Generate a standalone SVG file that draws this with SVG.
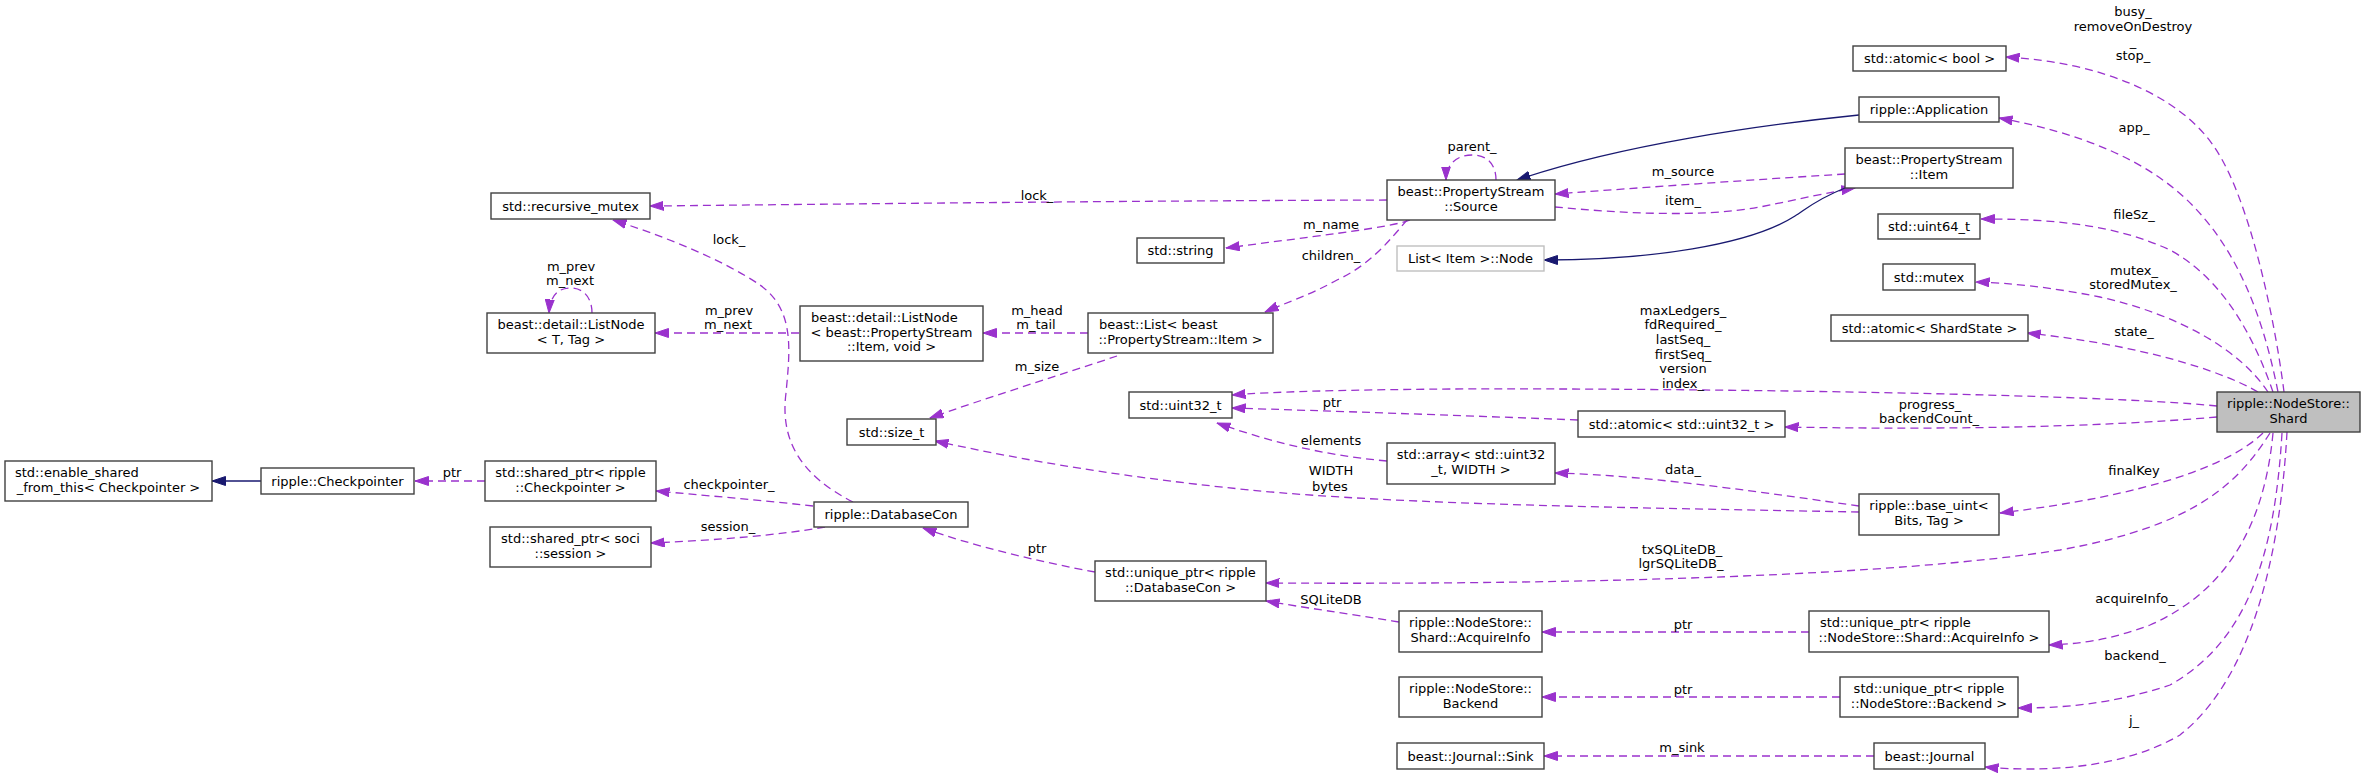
<svg xmlns="http://www.w3.org/2000/svg" width="2365" height="775" viewBox="0 0 2365 775">
<style>
.n rect{fill:#ffffff;stroke:#404040;stroke-width:1.4}
.n.g rect{stroke:#bfbfbf}
.n.s rect{fill:#bfbfbf}
text{font-family:"DejaVu Sans","Liberation Sans",sans-serif;font-size:13px;fill:#000;text-anchor:middle}
text.l{text-anchor:start}
.e path{fill:none;stroke:#9a32cd;stroke-width:1.3;stroke-dasharray:8,5}
.e path.h{stroke:#191970;stroke-dasharray:none}
</style>
<defs>
<marker id="ap" viewBox="0 0 14 10" refX="13.5" refY="5" markerWidth="14" markerHeight="10" markerUnits="userSpaceOnUse" orient="auto"><path d="M0,0.5 L13.5,5 L0,9.5 z" fill="#9a32cd" stroke="#9a32cd" stroke-width="1"/></marker>
<marker id="an" viewBox="0 0 14 10" refX="13.5" refY="5" markerWidth="14" markerHeight="10" markerUnits="userSpaceOnUse" orient="auto"><path d="M0,0.5 L13.5,5 L0,9.5 z" fill="#191970" stroke="#191970" stroke-width="1"/></marker>
</defs>
<rect width="2365" height="775" fill="#fff"/>
<g id="edges" class="e">
<path marker-end="url(#ap)" d="M2284,392 C2275,320 2250,200 2215,148 C2180,95 2100,62 2006,57"/>
<path marker-end="url(#ap)" d="M2278,392 C2262,310 2235,250 2195,208 C2150,160 2080,133 1999,118"/>
<path marker-end="url(#ap)" d="M2273,392 C2255,340 2225,280 2170,250 C2110,222 2040,219 1981,219"/>
<path marker-end="url(#ap)" d="M2268,392 C2240,350 2180,315 2100,297 C2050,287 2010,283 1976,282"/>
<path marker-end="url(#ap)" d="M2258,392 C2220,370 2140,345 2027,333"/>
<path marker-end="url(#ap)" d="M2217,406 C2100,394 1700,388 1450,389 C1330,390 1270,392 1232,395"/>
<path marker-end="url(#ap)" d="M2217,417 C2100,427 1950,430 1785,427"/>
<path marker-end="url(#ap)" d="M1578,420 C1450,415 1330,411 1232,408"/>
<path marker-end="url(#ap)" d="M1387,461 C1320,455 1265,440 1217,423"/>
<path marker-end="url(#ap)" d="M1859,506 C1780,495 1650,475 1555,473"/>
<path marker-end="url(#ap)" d="M1859,512 C1650,508 1400,505 1250,490 C1100,475 1000,455 935,441"/>
<path marker-end="url(#ap)" d="M2263,433 C2230,465 2150,495 2000,513"/>
<path marker-end="url(#ap)" d="M2270,433 C2240,480 2200,525 2060,550 C1900,575 1600,585 1266,583"/>
<path marker-end="url(#ap)" d="M1399,622 C1350,614 1300,607 1266,601"/>
<path marker-end="url(#ap)" d="M1095,572 C1040,562 970,545 923,528"/>
<path marker-end="url(#ap)" d="M1809,632 L1542,632"/>
<path marker-end="url(#ap)" d="M2273,433 C2265,520 2230,590 2150,625 C2110,640 2080,644 2049,645"/>
<path marker-end="url(#ap)" d="M1840,697 L1542,697"/>
<path marker-end="url(#ap)" d="M2282,433 C2275,550 2250,640 2170,685 C2110,705 2060,708 2018,708"/>
<path marker-end="url(#ap)" d="M1874,756 L1544,756"/>
<path marker-end="url(#ap)" d="M2287,432 C2280,560 2250,680 2180,735 C2120,770 2040,772 1985,767"/>
<path marker-end="url(#ap)" d="M853,502 C800,475 780,440 786,393 C790,350 795,310 760,285 C720,258 660,235 613,220"/>
<path marker-end="url(#ap)" d="M813,506 C760,500 700,495 656,491"/>
<path marker-end="url(#ap)" d="M825,527 C780,535 720,540 651,543"/>
<path marker-end="url(#ap)" d="M485,481 L415,481"/>
<path class="h" marker-end="url(#an)" d="M261,481 L212,481"/>
<path marker-end="url(#ap)" d="M592,313 C592,298 584,288 570,288 C558,288 550,296 549,313"/>
<path marker-end="url(#ap)" d="M799,333 L655,333"/>
<path marker-end="url(#ap)" d="M1088,333 L983,333"/>
<path marker-end="url(#ap)" d="M1117,356 C1060,375 980,400 930,418"/>
<path marker-end="url(#ap)" d="M1407,220 C1390,240 1370,265 1337,280 C1310,295 1285,303 1265,312"/>
<path marker-end="url(#ap)" d="M1410,220 C1390,228 1300,238 1226,248"/>
<path marker-end="url(#ap)" d="M1387,200 C1100,201 850,204 650,206"/>
<path marker-end="url(#ap)" d="M1496,180 C1496,165 1488,155 1472,155 C1456,155 1446,165 1446,180"/>
<path marker-end="url(#ap)" d="M1845,174 C1750,180 1650,187 1555,194"/>
<path marker-end="url(#ap)" d="M1555,207 C1620,213 1700,218 1760,207 C1800,199 1830,192 1855,188"/>
<path class="h" marker-end="url(#an)" d="M1859,115 C1760,125 1620,145 1517,180"/>
<path class="h" marker-end="url(#an)" d="M1845,188 C1815,200 1805,210 1795,216 C1750,245 1650,260 1544,260"/>
<g id="edge-labels">
<text x="2133" y="16">busy_</text><text x="2133" y="31">removeOnDestroy</text><text x="2133" y="45.5">_</text><text x="2133" y="60">stop_</text>
<text x="2134" y="132">app_</text>
<text x="2134" y="218.5">fileSz_</text>
<text x="2134" y="275">mutex_</text><text x="2133" y="289">storedMutex_</text>
<text x="2134" y="335.5">state_</text>
<text x="1683" y="315">maxLedgers_</text><text x="1683" y="329">fdRequired_</text><text x="1683" y="344">lastSeq_</text><text x="1683" y="358.5">firstSeq_</text><text x="1683" y="373">version</text><text x="1683" y="388">index_</text>
<text x="1930" y="408.5">progress_</text><text x="1929" y="423">backendCount_</text>
<text x="1332" y="407">ptr</text>
<text x="1331" y="445">elements</text>
<text x="1683" y="473.5">data_</text>
<text x="1331" y="475">WIDTH</text><text x="1330" y="490.5">bytes</text>
<text x="2134" y="475">finalKey</text>
<text x="1682" y="553.5">txSQLiteDB_</text><text x="1681" y="568">lgrSQLiteDB_</text>
<text x="1331" y="603.5">SQLiteDB</text>
<text x="1037" y="553">ptr</text>
<text x="1683" y="628.5">ptr</text>
<text x="2135" y="603">acquireInfo_</text>
<text x="1683" y="694">ptr</text>
<text x="2135" y="660">backend_</text>
<text x="1682" y="752">m_sink</text>
<text x="2134" y="724.5">j_</text>
<text x="729" y="244">lock_</text>
<text x="1037" y="199.5">lock_</text>
<text x="729" y="488.5">checkpointer_</text>
<text x="728" y="531">session_</text>
<text x="452" y="477">ptr</text>
<text x="571" y="270.5">m_prev</text><text x="570" y="285">m_next</text>
<text x="729" y="315">m_prev</text><text x="728" y="329">m_next</text>
<text x="1037" y="315">m_head</text><text x="1036" y="328.5">m_tail</text>
<text x="1037" y="371">m_size</text>
<text x="1331" y="260">children_</text>
<text x="1331" y="228.5">m_name</text>
<text x="1472" y="151">parent_</text>
<text x="1683" y="175.5">m_source</text>
<text x="1683" y="204.5">item_</text>
</g>
</g>
<g id="n_esft" class="n"><rect x="5" y="461" width="207" height="40"/><text class="l" x="15" y="477">std::enable_shared</text><text x="108.5" y="492">_from_this&lt; Checkpointer &gt;</text></g>
<g id="n_ckpt" class="n"><rect x="261" y="468" width="153" height="26"/><text x="337.5" y="485.5">ripple::Checkpointer</text></g>
<g id="n_spckpt" class="n"><rect x="485" y="461" width="171" height="40"/><text x="570.5" y="477">std::shared_ptr&lt; ripple</text><text x="570.5" y="492">::Checkpointer &gt;</text></g>
<g id="n_spsoci" class="n"><rect x="490" y="527" width="161" height="40"/><text x="570.5" y="543">std::shared_ptr&lt; soci</text><text x="570.5" y="558">::session &gt;</text></g>
<g id="n_rmutex" class="n"><rect x="491" y="193" width="159" height="26"/><text x="570.5" y="210.5">std::recursive_mutex</text></g>
<g id="n_lnTT" class="n"><rect x="487" y="313" width="168" height="40"/><text x="571" y="329">beast::detail::ListNode</text><text x="571" y="344">&lt; T, Tag &gt;</text></g>
<g id="n_lnItem" class="n"><rect x="800" y="306" width="183" height="55"/><text class="l" x="811" y="322">beast::detail::ListNode</text><text x="891.5" y="337">&lt; beast::PropertyStream</text><text x="891.5" y="351">::Item, void &gt;</text></g>
<g id="n_dbcon" class="n"><rect x="814" y="502" width="154" height="25"/><text x="891" y="519">ripple::DatabaseCon</text></g>
<g id="n_sizet" class="n"><rect x="847" y="419" width="89" height="26"/><text x="891.5" y="436.5">std::size_t</text></g>
<g id="n_list" class="n"><rect x="1088" y="313" width="185" height="40"/><text class="l" x="1099" y="329">beast::List&lt; beast</text><text x="1180.5" y="344">::PropertyStream::Item &gt;</text></g>
<g id="n_string" class="n"><rect x="1137" y="238" width="87" height="25"/><text x="1180.5" y="255">std::string</text></g>
<g id="n_uint32" class="n"><rect x="1129" y="392" width="103" height="26"/><text x="1180.5" y="409.5">std::uint32_t</text></g>
<g id="n_uptrdb" class="n"><rect x="1095" y="561" width="171" height="40"/><text x="1180.5" y="577">std::unique_ptr&lt; ripple</text><text x="1180.5" y="592">::DatabaseCon &gt;</text></g>
<g id="n_source" class="n"><rect x="1387" y="180" width="168" height="40"/><text x="1471" y="196">beast::PropertyStream</text><text x="1471" y="211">::Source</text></g>
<g id="n_lnode" class="n g"><rect x="1397" y="246" width="147" height="25"/><text x="1470.5" y="263">List&lt; Item &gt;::Node</text></g>
<g id="n_array" class="n"><rect x="1387" y="443" width="168" height="41"/><text x="1471" y="459">std::array&lt; std::uint32</text><text x="1471" y="474">_t, WIDTH &gt;</text></g>
<g id="n_acqinfo" class="n"><rect x="1399" y="611" width="143" height="41"/><text x="1470.5" y="627">ripple::NodeStore::</text><text x="1470.5" y="642">Shard::AcquireInfo</text></g>
<g id="n_backend" class="n"><rect x="1399" y="677" width="143" height="40"/><text x="1470.5" y="693">ripple::NodeStore::</text><text x="1470.5" y="708">Backend</text></g>
<g id="n_sink" class="n"><rect x="1397" y="743" width="147" height="26"/><text x="1470.5" y="760.5">beast::Journal::Sink</text></g>
<g id="n_atomu32" class="n"><rect x="1578" y="411" width="207" height="26"/><text x="1681.5" y="428.5">std::atomic&lt; std::uint32_t &gt;</text></g>
<g id="n_atombool" class="n"><rect x="1853" y="46" width="153" height="25"/><text x="1929.5" y="63">std::atomic&lt; bool &gt;</text></g>
<g id="n_app" class="n"><rect x="1859" y="97" width="140" height="25"/><text x="1929" y="114">ripple::Application</text></g>
<g id="n_item" class="n"><rect x="1845" y="148" width="168" height="40"/><text x="1929" y="164">beast::PropertyStream</text><text x="1929" y="179">::Item</text></g>
<g id="n_uint64" class="n"><rect x="1878" y="214" width="102" height="25"/><text x="1929" y="231">std::uint64_t</text></g>
<g id="n_mutex" class="n"><rect x="1883" y="264" width="92" height="26"/><text x="1929" y="281.5">std::mutex</text></g>
<g id="n_shardstate" class="n"><rect x="1831" y="315" width="197" height="26"/><text x="1929.5" y="332.5">std::atomic&lt; ShardState &gt;</text></g>
<g id="n_baseuint" class="n"><rect x="1859" y="494" width="140" height="41"/><text x="1929" y="510">ripple::base_uint&lt;</text><text x="1929" y="525">Bits, Tag &gt;</text></g>
<g id="n_uptracq" class="n"><rect x="1809" y="611" width="240" height="41"/><text class="l" x="1820" y="627">std::unique_ptr&lt; ripple</text><text x="1929" y="642">::NodeStore::Shard::AcquireInfo &gt;</text></g>
<g id="n_uptrbe" class="n"><rect x="1840" y="677" width="178" height="40"/><text x="1929" y="693">std::unique_ptr&lt; ripple</text><text x="1929" y="708">::NodeStore::Backend &gt;</text></g>
<g id="n_journal" class="n"><rect x="1874" y="743" width="111" height="26"/><text x="1929.5" y="760.5">beast::Journal</text></g>
<g id="n_shard" class="n s"><rect x="2217" y="392" width="143" height="40"/><text x="2288.5" y="408">ripple::NodeStore::</text><text x="2288.5" y="423">Shard</text></g>
</svg>
